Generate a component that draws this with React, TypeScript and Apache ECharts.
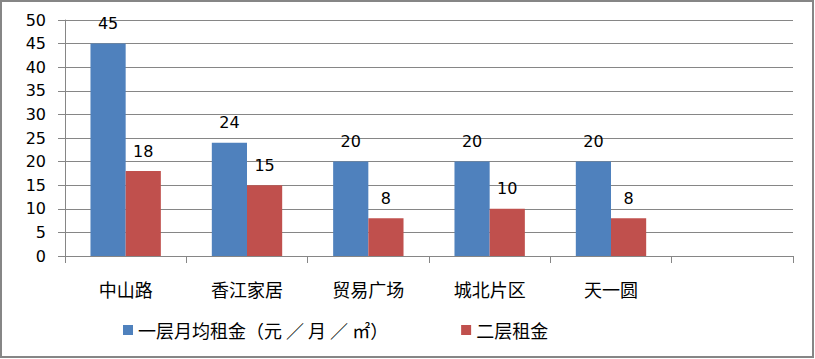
import React, { useEffect, useRef } from "react";
import * as echarts from "echarts";

const categories = ["中山路", "香江家居", "贸易广场", "城北片区", "天一圆", ""];
const firstFloor = [45, 24, 20, 20, 20, null];
const secondFloor = [18, 15, 8, 10, 8, null];
const seriesNames = ["一层月均租金（元 ／ 月 ／ ㎡）", "二层租金"];
const yTicks = { min: 0, max: 50, interval: 5 };

const FONT = "'DejaVu Sans', 'Noto Sans CJK SC', sans-serif";
const CJK = "'Noto Sans CJK SC', sans-serif";

export default function App() {
  const ref = useRef<HTMLDivElement>(null);
  useEffect(() => {
    if (!ref.current) return;
    const chart = echarts.init(ref.current, null, { renderer: "svg" });
    const labelStyle = {
      show: true,
      position: "top" as const,
      distance: 12,
      color: "#000",
      fontSize: 16,
      fontFamily: FONT,
    };
    chart.setOption({
      animation: false,
      backgroundColor: "#fff",
      textStyle: { fontFamily: FONT },
      graphic: [
        {
          type: "rect",
          shape: { x: 1, y: 1, width: 812, height: 356 },
          style: { fill: "none", stroke: "#868686", lineWidth: 2 },
          silent: true,
        },
      ],
      grid: { left: 65, right: 22, top: 20, bottom: 103, containLabel: false },
      legend: {
        left: 118,
        top: 316,
        itemWidth: 10,
        itemHeight: 10,
        itemGap: 73,
        icon: "rect",
        textStyle: { fontSize: 18, color: "#000", fontFamily: CJK },
        data: seriesNames,
      },
      xAxis: {
        type: "category",
        data: categories,
        axisLine: { show: true, lineStyle: { color: "#868686", width: 1 } },
        axisTick: { show: true, length: 7, lineStyle: { color: "#868686" } },
        axisLabel: {
          margin: 24,
          fontSize: 18,
          color: "#000",
          fontFamily: CJK,
          interval: 0,
        },
      },
      yAxis: {
        type: "value",
        min: yTicks.min,
        max: yTicks.max,
        interval: yTicks.interval,
        axisLine: { show: true, lineStyle: { color: "#868686", width: 1 } },
        axisTick: { show: true, length: 7, lineStyle: { color: "#868686" } },
        axisLabel: { margin: 19, fontSize: 16, color: "#000", fontFamily: FONT },
        splitLine: { show: true, lineStyle: { color: "#868686", width: 1 } },
      },
      series: [
        {
          name: seriesNames[0],
          type: "bar",
          data: firstFloor,
          barGap: "0%",
          barCategoryGap: "42%",
          itemStyle: { color: "#4F81BD" },
          label: labelStyle,
        },
        {
          name: seriesNames[1],
          type: "bar",
          data: secondFloor,
          itemStyle: { color: "#C0504D" },
          label: labelStyle,
        },
      ],
    });
    return () => chart.dispose();
  }, []);
  return (
    <div
      ref={ref}
      style={{ position: "fixed", left: 0, top: 0, width: 815, height: 359 }}
    />
  );
}
